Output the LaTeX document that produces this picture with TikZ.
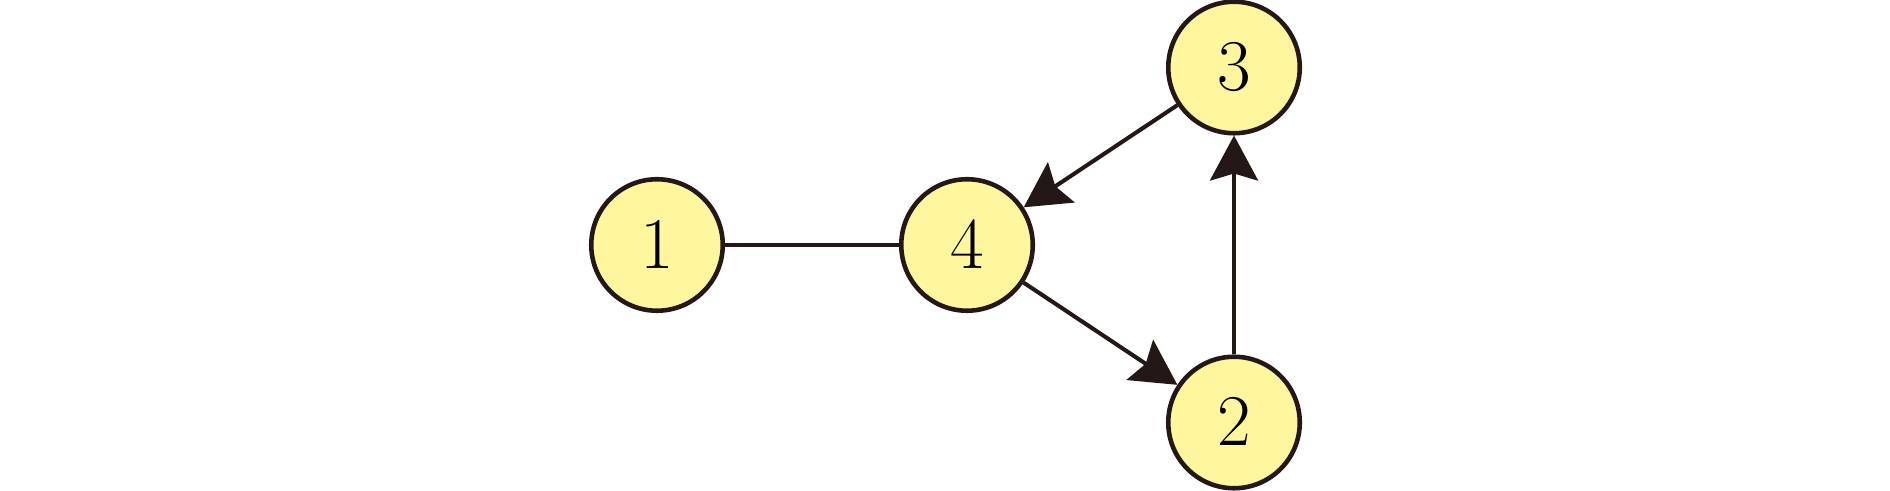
\documentclass[tikz,border=0pt]{standalone}
\usetikzlibrary{arrows.meta}
\definecolor{nodeyellow}{RGB}{255,246,158}
\definecolor{inkbrown}{RGB}{35,24,21}
\tikzset{
  vertex/.style={circle, draw=inkbrown, fill=nodeyellow, line width=1.3pt,
    minimum size=13.15mm, inner sep=0pt},
  edge/.style={draw=inkbrown, line width=1.15pt},
  arc/.style={edge, -{Stealth[length=4.5mm,width=4.8mm,inset=0.7mm]}}
}
\begin{document}
\begin{tikzpicture}[x=0.1mm,y=0.1mm,font=\fontsize{19.4}{23}\selectfont]

  \useasboundingbox (0,0) rectangle (1890,491);

  \node [vertex] (n1) at (657,246) {$1$};
  \node [vertex] (n4) at (967,246) {$4$};
  \node [vertex] (n3) at (1234,423.5) {$3$};
  \node [vertex] (n2) at (1234,68.5) {$2$};

  \draw [edge] (n1) -- (n4);
  \draw [arc] (n3) -- (n4);
  \draw [arc] (n4) -- (n2);
  \draw [arc] (n2) -- (n3);

\end{tikzpicture}
\end{document}
